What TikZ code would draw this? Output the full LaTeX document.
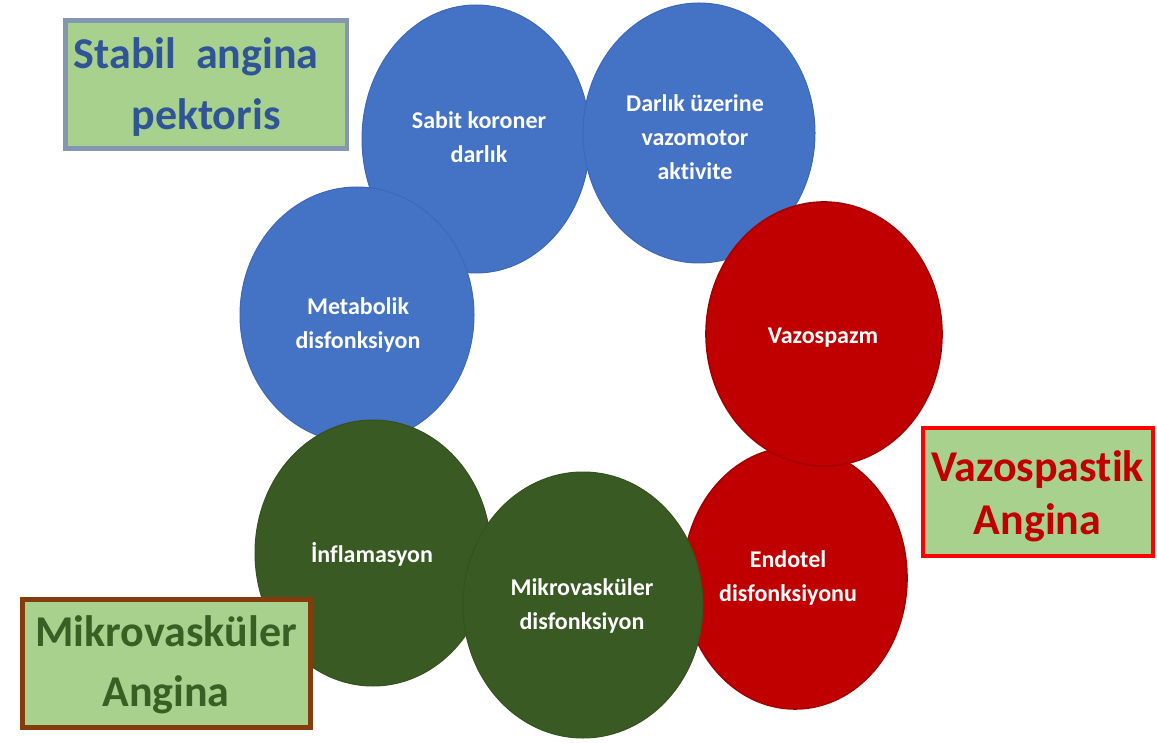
\documentclass[tikz,border=0pt]{standalone}
\usepackage{fontspec}
\setmainfont{Carlito}[Ligatures=NoCommon]
\usetikzlibrary{shapes.geometric}

\definecolor{cblue}{HTML}{4472C4}
\definecolor{cblueline}{HTML}{3F68B5}
\definecolor{cred}{HTML}{C00000}
\definecolor{credline}{HTML}{A50000}
\definecolor{cgreen}{HTML}{3A5A24}
\definecolor{cgreenline}{HTML}{34511F}
\definecolor{boxfill}{HTML}{A9D18E}
\definecolor{stabline}{HTML}{8497B0}
\definecolor{stabtext}{HTML}{2F5597}
\definecolor{vazoline}{HTML}{FF0000}
\definecolor{mikroline}{HTML}{843C0C}
\definecolor{mikrotext}{HTML}{386025}

\tikzset{
  blob/.style={ellipse, inner sep=0pt, line width=1pt},
  blueblob/.style={blob, fill=cblue, draw=cblueline},
  redblob/.style={blob, fill=cred, draw=credline, line width=1.6pt},
  greenblob/.style={blob, fill=cgreen, draw=cgreenline},
  blobtext/.style={text=white, align=center, inner sep=0pt,
    font=\fontsize{24}{34}\selectfont\bfseries},
  groupbox/.style={rectangle, fill=boxfill, line width=4.5pt, inner sep=0pt,
    minimum width=#1, minimum height=128pt},
  grouptext/.style={align=center, inner sep=0pt, font=\bfseries}
}

\begin{document}
\begin{tikzpicture}[x=1pt, y=-1pt]
\useasboundingbox (0,0) rectangle (1157,743);

% causes of angina, drawn back to front
\node[blueblob, minimum width=228pt, minimum height=268pt] (sabit) at (476,139) {};
\node[blobtext] (sabit-t) at (479,137) {Sabit koroner\\darlık};

\node[blueblob, minimum width=232pt, minimum height=260pt] (darlik) at (699,133) {};
\node[blobtext] (darlik-t) at (695,137.5) {Darlık üzerine\\vazomotor\\aktivite};

\node[redblob, minimum width=224pt, minimum height=262pt] (endo) at (795,578) {};
\node[blobtext] (endo-t) at (788,578) {Endotel\\disfonksiyonu};

\node[redblob, minimum width=236pt, minimum height=264pt] (vazo) at (824,334) {};
\node[blobtext] (vazo-t) at (823,338) {Vazospazm};

\node[blueblob, minimum width=234pt, minimum height=256pt] (metab) at (357,315) {};
\node[blobtext] (metab-t) at (358,324.5) {Metabolik\\disfonksiyon};

\node[greenblob, minimum width=236pt, minimum height=266pt] (infl) at (373,553) {};
\node[blobtext] (infl-t) at (372,554) {İnflamasyon};

\node[greenblob, minimum width=240pt, minimum height=266pt] (mikro) at (583,605) {};
\node[blobtext] (mikro-t) at (582,606) {Mikrovasküler\\disfonksiyon};

% angina types
\node[groupbox=281.5pt, draw=stabline] (stabil) at (206,84.5) {};
\node[grouptext, text=stabtext, font=\fontsize{44}{61}\selectfont\bfseries]
  (stabil-t) at (206,87) {Stabil~~angina\hspace*{0.45em}\\pektoris};

\node[groupbox=230pt, draw=vazoline, line width=4pt] (vazobox) at (1037.5,491.5) {};
\node[grouptext, text=cred, font=\fontsize{44}{53}\selectfont\bfseries]
  (vazobox-t) at (1037.5,496) {Vazospastik\\Angina};

\node[groupbox=288.5pt, draw=mikroline, line width=5pt, minimum height=128.5pt] (mikrobox) at (166.5,663.5) {};
\node[grouptext, text=mikrotext, font=\fontsize{44}{60}\selectfont\bfseries]
  (mikrobox-t) at (166,664.5) {Mikrovasküler\\Angina};
\end{tikzpicture}
\end{document}
